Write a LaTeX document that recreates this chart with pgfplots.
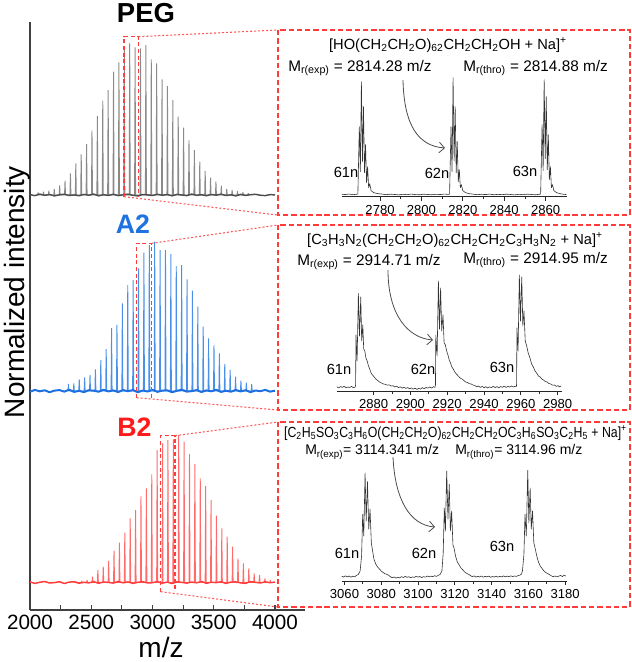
\documentclass[border=0pt]{standalone}
\usepackage{fontspec}
\setmainfont{Liberation Sans}
\usepackage{graphicx}
\usepackage{pgfplots}
\usepackage{pgfplotstable}
\pgfplotsset{compat=1.18}
\usetikzlibrary{arrows.meta}

\definecolor{zoomred}{HTML}{FF3B3B}
\definecolor{pegpk}{HTML}{8A8A8A}
\definecolor{pegbl}{HTML}{4D4D4D}
\definecolor{a2pk}{HTML}{4A90E8}
\definecolor{a2bl}{HTML}{1E6FE0}
\definecolor{a2lab}{HTML}{1F73E0}
\definecolor{b2pk}{HTML}{FF6A6A}
\definecolor{b2bl}{HTML}{FF3B3B}
\definecolor{b2lab}{HTML}{FF1A1A}
\definecolor{axgray}{HTML}{404040}

\pgfplotstableread{
x peg a2 b2
2000 415.4 218.2 28.1
2040 414.4 220.1 26.6
2080 415.9 218.7 27.8
2120 414.7 219.7 28.5
2160 415.5 217.8 27.0
2200 414.1 219.4 27.4
2240 415.2 219.9 28.3
2280 415.8 218.4 26.5
2320 414.5 220.3 27.9
2360 415.1 218.1 28.2
2400 414.3 219.2 26.8
2440 415.6 217.9 27.7
2480 414.8 219.8 27.1
2520 415.9 219.3 28.4
2560 414.2 218.3 26.7
2600 415.3 220.2 28.0
2640 414.6 218.6 27.6
2680 415.7 219.6 26.9
2720 414.4 218.0 28.5
2760 415.2 219.9 27.2
2800 415.8 218.8 28.1
2840 414.7 220.0 26.6
2880 414.1 217.7 27.7
2920 415.5 219.5 28.3
2960 415.1 218.5 27.0
3000 414.5 220.1 27.3
3040 415.7 218.2 28.4
3080 414.8 219.4 26.8
3120 415.4 219.7 27.9
3160 414.2 217.8 26.5
3200 415.6 219.2 28.2
3240 415.0 220.3 27.6
3280 414.4 218.4 26.9
3320 415.9 218.9 28.0
3360 414.7 219.9 27.2
3400 415.3 218.0 28.5
3440 414.3 219.6 26.7
3480 415.5 218.7 27.8
3520 414.9 220.2 27.4
3560 415.8 218.1 28.2
3600 414.5 219.3 26.6
3640 415.2 218.3 27.9
3680 414.1 220.0 28.1
3720 415.6 218.6 27.1
3760 414.6 219.8 26.7
3800 415.3 217.9 28.4
3840 415.7 219.5 27.7
3880 414.8 218.8 27.0
3920 414.4 220.1 28.2
3960 415.4 218.4 27.3
4000 415.1 219.3 27.9
}\noisetable

\pgfplotsset{
  inset/.style={
    scale only axis, width=168.75pt, height=97.5pt, anchor=south west,
    ymin=0, ymax=130, clip=false,
    axis x line=bottom, axis y line=none,
    axis line style={-, black!85, line width=0.7pt},
    ytick=\empty, minor x tick num=1,
    tick align=outside, major tick length=3pt, minor tick length=2pt,
    tick style={black!85, line width=0.6pt},
    xticklabel style={font=\fontsize{9.8}{11}\selectfont},
    /pgf/number format/assume math mode=true,
    /pgf/number format/set thousands separator={},
  },
  spec/.style={black!80, line width=0.45pt, line join=round},
}

\newcommand{\Mr}[1]{M\textsubscript{r(#1)}}

\begin{document}
\begin{tikzpicture}
\useasboundingbox (0,0) rectangle (474pt,-496.5pt);

% ---------------- main axis ----------------
\begin{axis}[
  at={(22.5pt,-457.5pt)}, anchor=south west, scale only axis,
  width=206.25pt, height=441pt,
  xmin=2000, xmax=4245, ymin=0, ymax=588,
  axis x line=bottom, axis y line=left,
  axis line style={-, draw=axgray, line width=1.1pt},
  xtick={2000,2500,3000,3500,4000}, minor xtick={2250,2750,3250,3750},
  ytick=\empty,
  tick align=inside, major tick length=3.5pt, minor tick length=3.5pt,
  tick style={axgray, line width=0.8pt},
  xticklabel style={font=\fontsize{15.5}{18}\selectfont},
  /pgf/number format/assume math mode=true,
  /pgf/number format/set thousands separator={},
  clip=false,
]
% PEG
\addplot[pegpk, line width=0.7pt, line join=bevel] coordinates {
(2062,415)(2066,417.5)(2070,415)
(2106,415)(2110,418.3)(2114,415)
(2150,415)(2154,419.3)(2158,415)
(2194,415)(2198,421)(2202,415)
(2238,415)(2242,424.7)(2246,415)
(2282,415)(2286,429)(2290,415)
(2326,415)(2330,436.7)(2334,415)
(2370,415)(2374,446.7)(2378,415)
(2414,415)(2418,455.7)(2422,415)
(2458,415)(2462,466)(2466,415)
(2502,415)(2506,479.3)(2510,415)
(2546,415)(2550,494)(2554,415)
(2590,415)(2594,509.3)(2598,415)
(2634,415)(2638,520)(2642,415)
(2678,415)(2682,538.3)(2686,415)
(2722,415)(2726,547.7)(2730,415)
(2766,415)(2770,560)(2774,415)
(2810,415)(2814,566.7)(2818,415)
(2854,415)(2858,562.7)(2862,415)
(2898,415)(2902,561.7)(2906,415)
(2942,415)(2946,565)(2950,415)
(2986,415)(2990,550.7)(2994,415)
(3030,415)(3034,546.7)(3038,415)
(3074,415)(3078,530.7)(3082,415)
(3118,415)(3122,524)(3126,415)
(3162,415)(3166,510)(3170,415)
(3206,415)(3210,493.3)(3214,415)
(3250,415)(3254,482.3)(3258,415)
(3294,415)(3298,470)(3302,415)
(3338,415)(3342,460)(3346,415)
(3382,415)(3386,448.3)(3390,415)
(3426,415)(3430,439)(3434,415)
(3470,415)(3474,432.3)(3478,415)
(3514,415)(3518,428.3)(3522,415)
(3558,415)(3562,424.3)(3566,415)
(3602,415)(3606,421)(3610,415)
(3646,415)(3650,420)(3654,415)
(3690,415)(3694,419)(3698,415)
(3734,415)(3738,418)(3742,415)
(3778,415)(3782,416.7)(3786,415)
};
\addplot[pegbl, line width=1.1pt, line join=round] table[x=x, y=peg] {\noisetable};
% A2
\addplot[a2pk, line width=0.7pt, line join=bevel] coordinates {
(2310,219)(2314,226)(2318,219)
(2354,219)(2358,226.7)(2362,219)
(2398,219)(2402,230.7)(2406,219)
(2442,219)(2446,232.7)(2450,219)
(2486,219)(2490,235)(2494,219)
(2530,219)(2534,240.7)(2538,219)
(2574,219)(2578,250)(2582,219)
(2618,219)(2622,261)(2626,219)
(2662,219)(2666,282)(2670,219)
(2706,219)(2710,285.3)(2714,219)
(2750,219)(2754,306.7)(2758,219)
(2794,219)(2798,325)(2802,219)
(2838,219)(2842,330)(2846,219)
(2882,219)(2886,341.7)(2890,219)
(2926,219)(2930,357.3)(2934,219)
(2970,219)(2974,365)(2978,219)
(3014,219)(3018,368.3)(3022,219)
(3058,219)(3062,360)(3066,219)
(3102,219)(3106,360)(3110,219)
(3146,219)(3150,356)(3154,219)
(3190,219)(3194,344)(3198,219)
(3234,219)(3238,345)(3242,219)
(3278,219)(3282,330.7)(3286,219)
(3322,219)(3326,319.3)(3330,219)
(3366,219)(3370,303.3)(3374,219)
(3410,219)(3414,283.3)(3418,219)
(3454,219)(3458,271.7)(3462,219)
(3498,219)(3502,265)(3506,219)
(3542,219)(3546,256.7)(3550,219)
(3586,219)(3590,246)(3594,219)
(3630,219)(3634,240)(3638,219)
(3674,219)(3678,233.3)(3682,219)
(3718,219)(3722,229.3)(3726,219)
(3762,219)(3766,227.3)(3770,219)
(3806,219)(3810,226)(3814,219)
};
\addplot[a2bl, line width=1.5pt, line join=round] table[x=x, y=a2] {\noisetable};
% B2
\addplot[b2pk, line width=0.7pt, line join=bevel] coordinates {
(2374,27.5)(2378,28.3)(2382,27.5)
(2418,27.5)(2422,29)(2426,27.5)
(2462,27.5)(2466,30)(2470,27.5)
(2506,27.5)(2510,33.3)(2514,27.5)
(2550,27.5)(2554,40)(2558,27.5)
(2594,27.5)(2598,43.3)(2602,27.5)
(2638,27.5)(2642,49)(2646,27.5)
(2682,27.5)(2686,59.3)(2690,27.5)
(2726,27.5)(2730,67.3)(2734,27.5)
(2770,27.5)(2774,77.3)(2778,27.5)
(2814,27.5)(2818,91.7)(2822,27.5)
(2858,27.5)(2862,100)(2866,27.5)
(2902,27.5)(2906,114)(2910,27.5)
(2946,27.5)(2950,121.7)(2954,27.5)
(2990,27.5)(2994,135.7)(2998,27.5)
(3034,27.5)(3038,160)(3042,27.5)
(3078,27.5)(3082,166.7)(3086,27.5)
(3122,27.5)(3126,170)(3130,27.5)
(3166,27.5)(3170,170.7)(3174,27.5)
(3210,27.5)(3214,175)(3218,27.5)
(3254,27.5)(3258,168.3)(3262,27.5)
(3298,27.5)(3302,156)(3306,27.5)
(3342,27.5)(3346,146)(3350,27.5)
(3386,27.5)(3390,131.7)(3394,27.5)
(3430,27.5)(3434,124)(3438,27.5)
(3474,27.5)(3478,110)(3482,27.5)
(3518,27.5)(3522,94.3)(3526,27.5)
(3562,27.5)(3566,81.7)(3570,27.5)
(3606,27.5)(3610,73.3)(3614,27.5)
(3650,27.5)(3654,63.3)(3658,27.5)
(3694,27.5)(3698,51.7)(3702,27.5)
(3738,27.5)(3742,46.7)(3746,27.5)
(3782,27.5)(3786,41.7)(3790,27.5)
(3826,27.5)(3830,36.7)(3834,27.5)
(3870,27.5)(3874,35)(3878,27.5)
(3914,27.5)(3918,31.7)(3922,27.5)
(3958,27.5)(3962,30)(3966,27.5)
};
\addplot[b2bl, line width=1.1pt, line join=round] table[x=x, y=b2] {\noisetable};

% zoom rectangles
\draw[zoomred, line width=0.9pt, dash pattern=on 3pt off 2pt]
  (axis cs:2767,413.3) -- (axis cs:2767,573.3) -- (axis cs:2884,573.3) -- (axis cs:2884,413.3);
\draw[zoomred, line width=0.9pt, dash pattern=on 3pt off 2pt]
  (axis cs:2871,212.3) -- (axis cs:2871,366.7) -- (axis cs:2993,366.7) -- (axis cs:2993,212.3);
\draw[zoomred, line width=0.9pt, dash pattern=on 3pt off 2pt]
  (axis cs:3067,18.3) -- (axis cs:3067,174.3) -- (axis cs:3184,174.3) -- (axis cs:3184,18.3);
\coordinate (pT) at (axis cs:2884,573.3);
\coordinate (pB) at (axis cs:2767,413.3);
\coordinate (aT) at (axis cs:2993,366.7);
\coordinate (aB) at (axis cs:2871,212.3);
\coordinate (bT) at (axis cs:3184,174.3);
\coordinate (bB) at (axis cs:3067,18.3);
\end{axis}

% ---------------- PEG inset ----------------
\begin{axis}[inset, at={(256.3pt,-147.5pt)}, xmin=2761.5, xmax=2870.2,
  xtick={2780,2800,2820,2840,2860}]
\addplot[spec] coordinates {
(2761.5,2.5)(2763,2.1)(2765,2.6)(2767,2.0)(2768.5,2.4)(2769.3,2.6)
(2770,70)(2770.5,25)(2771,115)(2771.5,35)(2772,90)(2772.5,24)(2773,52)(2773.5,14)(2774,30)(2774.5,9)(2775,13)(2775.7,6)(2777,4)(2779,3)
(2781,2.6)(2783,2.0)(2785,2.5)(2787,2.2)(2789,1.8)(2791,2.4)(2793,2.0)(2795,2.6)(2797,2.1)(2799,1.9)(2801,2.5)(2803,2.2)(2805,1.9)(2807,2.4)(2809,2.1)(2811,2.6)(2813,2.3)(2813.6,2.6)
(2814.3,70)(2814.8,25)(2815.3,119)(2815.8,36)(2816.3,90)(2816.8,24)(2817.3,55)(2817.8,15)(2818.3,27)(2818.8,9)(2819.3,12)(2820,6)(2821.3,4)(2823,3)
(2825,2.5)(2827,2.0)(2829,2.4)(2831,2.1)(2833,2.6)(2835,1.9)(2837,2.3)(2839,2.0)(2841,2.5)(2843,2.2)(2845,1.8)(2847,2.4)(2849,2.0)(2851,2.5)(2853,2.2)(2855,1.9)(2857,2.4)(2857.6,2.6)
(2858.3,72)(2858.8,26)(2859.3,117)(2859.8,38)(2860.3,100)(2860.8,27)(2861.3,62)(2861.8,17)(2862.3,30)(2862.8,9)(2863.3,12)(2864,6)(2865.3,4)(2867,3)(2868.5,2.4)(2870,2.1)
};
\end{axis}

% ---------------- A2 inset ----------------
\begin{axis}[inset, at={(252.5pt,-293.25pt)}, xmin=2859.9, xmax=2982.2,
  xtick={2880,2900,2920,2940,2960,2980}]
\addplot[spec] coordinates {
(2860,4.2)(2861,3.1)(2862,4.5)(2863,3.6)(2864,4.8)(2865,3.2)(2866,4.1)(2867,3.5)(2868,4.6)(2869,3.3)(2870,4.0)
(2870.2,6)(2870.4,56)(2871,30)(2871.7,97.7)(2872.3,55)(2873,94)(2873.5,50)(2874.1,66)(2874.6,42)(2875.2,40)(2875.8,33)(2876.5,30)(2877.2,25)(2877.9,22)(2878.6,18)(2879.4,16)(2880.3,14)(2881.2,12)(2882.2,10.5)(2883.2,9)(2884.3,8)(2885.4,7)(2886.5,6.6)(2887.5,5.8)(2888.5,6.2)(2889.5,5)
(2890.5,5.3)(2891.5,4.0)(2892.5,4.8)(2893.5,3.4)(2894.5,4.2)(2895.5,2.9)(2896.5,3.8)(2897.5,2.6)(2898.5,3.5)(2899.5,2.2)(2900.5,3.1)(2901.5,1.8)(2902.5,2.9)(2903.5,1.6)(2904.5,2.6)(2905.5,1.9)(2906.5,3.4)(2907.5,2.3)(2908.5,3.6)(2909.5,2.8)(2910.5,4.1)(2911.5,3.0)(2912.5,4.3)(2913.3,3.6)
(2913.6,6)(2913.8,56)(2914.5,35)(2915.2,110)(2915.8,62)(2916.4,103)(2917,60)(2917.7,76)(2918.3,48)(2919,46)(2919.7,40)(2920.4,36)(2921.1,31)(2921.8,28)(2922.5,24)(2923.3,22)(2924.1,19)(2925,17)(2926,15)(2927,13)(2928,12)(2929,10.5)(2930,9)(2931,8.5)(2932,7.3)(2933,7)(2934,6)
(2935,5.5)(2936,4.2)(2937,5.0)(2938,3.6)(2939,4.6)(2940,3.3)(2941,4.3)(2942,3.0)(2943,4.1)(2944,3.4)(2945,4.7)(2946,3.5)(2947,4.4)(2948,3.1)(2949,4.5)(2950,3.7)(2951,4.9)(2952,3.6)(2953,4.6)(2954,3.9)(2955,5.0)(2956,4.0)(2957,4.8)(2957.6,4.5)
(2957.7,7)(2957.9,63)(2958.5,40)(2959.2,116)(2959.8,70)(2960.5,114)(2961.1,65)(2961.7,80)(2962.4,50)(2963.2,45)(2964,38)(2964.8,34)(2965.9,27)(2966.8,24)(2967.7,20)(2968.6,18)(2969.6,15)(2970.5,14)(2971.4,12)(2972.3,11)(2973.3,9.5)(2974.3,9)(2975.3,7.4)(2976.3,7)(2977.3,5.8)(2978.3,6)(2979.3,4.6)(2980.3,5.4)(2981,4.2)(2982,5)
};
\end{axis}

% ---------------- B2 inset ----------------
\begin{axis}[inset, at={(256.3pt,-435.75pt)}, xmin=3058.5, xmax=3180.9,
  xtick={3060,3080,3100,3120,3140,3160,3180}]
\addplot[spec] coordinates {
(3058.5,4.8)(3059.5,3.9)(3060.5,5.2)(3061.5,4.1)(3062.5,5.0)(3063.5,3.8)(3064.5,4.9)(3065.5,4.2)(3066.5,5.6)(3067.5,6.5)
(3068.5,10)(3069.3,25)(3069.9,66.7)(3070.5,45)(3071.2,108)(3071.8,60)(3072.5,99.3)(3073.2,52)(3073.9,71.7)(3074.6,38)(3075.3,30)(3076,22)(3077,17)(3078,14)(3079,12)(3080,10)(3081,8.5)(3082,7.3)(3083,6.6)
(3084,5.8)(3085,4.2)(3086,3.3)(3087,4.0)(3088,2.9)(3089,3.8)(3090,3.1)(3091,4.4)(3092,3.5)(3093,4.6)(3094,3.7)(3095,4.3)(3096,3.2)(3097,4.1)(3098,3.6)(3099,4.8)(3100,3.9)(3101,4.5)(3102,3.4)(3103,4.4)(3104,3.8)(3105,5.0)(3106,4.1)(3107,4.9)(3108,4.3)(3109,5.3)(3110,4.6)(3111,5.7)(3112,6.5)
(3113,10)(3113.7,28)(3114.3,73)(3114.9,50)(3115.6,110)(3116.3,62)(3117,96.7)(3117.6,50)(3118.3,70)(3119,36)(3119.6,33)(3120.4,25)(3121.4,19)(3122.4,16)(3123.4,13)(3124.4,11)(3125.4,9)(3126.5,7.6)(3127.5,6.7)
(3128.5,5.5)(3129.5,4.3)(3130.5,5.1)(3131.5,3.9)(3132.5,4.7)(3133.5,4.0)(3134.5,5.0)(3135.5,3.8)(3136.5,4.6)(3137.5,4.2)(3138.5,4.9)(3139.5,3.7)(3140.5,4.5)(3141.5,4.0)(3142.5,4.8)(3143.5,3.9)(3144.5,4.6)(3145.5,4.1)(3146.5,5.1)(3147.5,4.2)(3148.5,4.9)(3149.5,4.3)(3150.5,5.2)(3151.5,4.4)(3152.5,5.0)(3153.5,4.6)(3154.5,5.4)(3155.5,5.9)(3156.3,7)
(3156.8,10)(3157.6,26)(3158.2,66.7)(3158.9,45)(3159.7,110.7)(3160.3,58)(3161,93)(3161.6,52)(3162.3,70)(3163,38)(3163.8,32)(3164.6,25)(3165.5,19)(3166.5,15)(3167.5,12.5)(3168.5,10)(3169.5,8.5)(3170.5,7.4)(3171.5,6.4)
(3172.5,5.2)(3173.5,4.4)(3174.5,5.0)(3175.5,4.1)(3176.5,4.8)(3177.5,5.6)(3178.5,4.5)(3179.5,5.8)(3180.5,4.9)
};
\end{axis}

% ---------------- annotations (pixel units) ----------------
\begin{scope}[x=0.75pt, y=-0.75pt]
  % connectors
  \draw[zoomred!85, line width=0.8pt, dash pattern=on 1.5pt off 1.5pt] (pT) -- (277.5,30);
  \draw[zoomred!85, line width=0.8pt, dash pattern=on 1.5pt off 1.5pt] (pB) -- (277.5,215);
  \draw[zoomred!85, line width=0.8pt, dash pattern=on 1.5pt off 1.5pt] (aT) -- (278,225);
  \draw[zoomred!85, line width=0.8pt, dash pattern=on 1.5pt off 1.5pt] (aB) -- (278,410);
  \draw[zoomred!85, line width=0.8pt, dash pattern=on 1.5pt off 1.5pt] (bT) -- (278,422);
  \draw[zoomred!85, line width=0.8pt, dash pattern=on 1.5pt off 1.5pt] (bB) -- (278,607);
  % inset boxes
  \draw[zoomred, line width=1pt, dash pattern=on 4pt off 2.2pt] (278,30) rectangle (630,215);
  \draw[zoomred, line width=1pt, dash pattern=on 4pt off 2.2pt] (278,225) rectangle (630,410);
  \draw[zoomred, line width=1pt, dash pattern=on 4pt off 2.2pt] (278,422) rectangle (630,607);

  % main labels
  \node[font=\fontsize{20.6}{24}\selectfont\bfseries] at (146,13) {PEG};
  \node[font=\fontsize{20}{24}\selectfont\bfseries, text=a2lab] at (133,224) {A2};
  \node[font=\fontsize{20}{24}\selectfont\bfseries, text=b2lab] at (134.5,427) {B2};
  \node[font=\fontsize{21}{25}\selectfont, rotate=90, anchor=base, inner sep=0pt] at (24,292) {Normalized intensity};
  \node[font=\fontsize{21}{25}\selectfont] at (161,647) {m/z};

  % PEG inset text
  \node[font=\fontsize{11}{13}\selectfont] at (448,45)
    {[HO(CH\textsubscript{2}CH\textsubscript{2}O)\textsubscript{62}CH\textsubscript{2}CH\textsubscript{2}OH + Na]\textsuperscript{+}};
  \node[font=\fontsize{11.5}{13}\selectfont, anchor=west, inner sep=0pt] at (288,68) {\Mr{exp} = 2814.28 m/z};
  \node[font=\fontsize{11.5}{13}\selectfont, anchor=west, inner sep=0pt] at (463,68) {\Mr{thro} = 2814.88 m/z};
  \node[font=\fontsize{11}{13}\selectfont] at (346,172) {61n};
  \node[font=\fontsize{11}{13}\selectfont] at (437,173) {62n};
  \node[font=\fontsize{11}{13}\selectfont] at (525,171) {63n};
  \draw[black!70, line width=0.6pt, -{Straight Barb[length=4pt]}] (403,80) .. controls (404,125) and (418,146) .. (445,148);

  % A2 inset text
  \node[font=\fontsize{11}{13}\selectfont] at (455,240)
    {[C\textsubscript{3}H\textsubscript{3}N\textsubscript{2}(CH\textsubscript{2}CH\textsubscript{2}O)\textsubscript{62}CH\textsubscript{2}CH\textsubscript{2}C\textsubscript{3}H\textsubscript{3}N\textsubscript{2} + Na]\textsuperscript{+}};
  \node[font=\fontsize{11.5}{13}\selectfont, anchor=west, inner sep=0pt] at (297,262) {\Mr{exp} = 2914.71 m/z};
  \node[font=\fontsize{11.5}{13}\selectfont, anchor=west, inner sep=0pt] at (463,260) {\Mr{thro} = 2914.95 m/z};
  \node[font=\fontsize{11}{13}\selectfont] at (339,369) {61n};
  \node[font=\fontsize{11}{13}\selectfont] at (423,369) {62n};
  \node[font=\fontsize{11}{13}\selectfont] at (502,367) {63n};
  \draw[black!70, line width=0.6pt, -{Straight Barb[length=4pt]}] (388,270) .. controls (388,315) and (408,338) .. (433,340);

  % B2 inset text
  \node[font=\fontsize{11}{13}\selectfont, inner sep=0pt] at (455.5,433)
    {\resizebox{257pt}{\height}{[C\textsubscript{2}H\textsubscript{5}SO\textsubscript{3}C\textsubscript{3}H\textsubscript{6}O(CH\textsubscript{2}CH\textsubscript{2}O)\textsubscript{62}CH\textsubscript{2}CH\textsubscript{2}OC\textsubscript{3}H\textsubscript{6}SO\textsubscript{3}C\textsubscript{2}H\textsubscript{5} + Na]\textsuperscript{+}}};
  \node[font=\fontsize{10.5}{13}\selectfont, anchor=west, inner sep=0pt] at (305,452) {\Mr{exp}= 3114.341 m/z};
  \node[font=\fontsize{10.5}{13}\selectfont, anchor=west, inner sep=0pt] at (455,452) {\Mr{thro}= 3114.96 m/z};
  \node[font=\fontsize{11}{13}\selectfont] at (347,553) {61n};
  \node[font=\fontsize{11}{13}\selectfont] at (424,553) {62n};
  \node[font=\fontsize{11}{13}\selectfont] at (502,546) {63n};
  \draw[black!70, line width=0.6pt, -{Straight Barb[length=4pt]}] (393,457) .. controls (395,500) and (410,525) .. (435,527);
\end{scope}
\end{tikzpicture}
\end{document}
